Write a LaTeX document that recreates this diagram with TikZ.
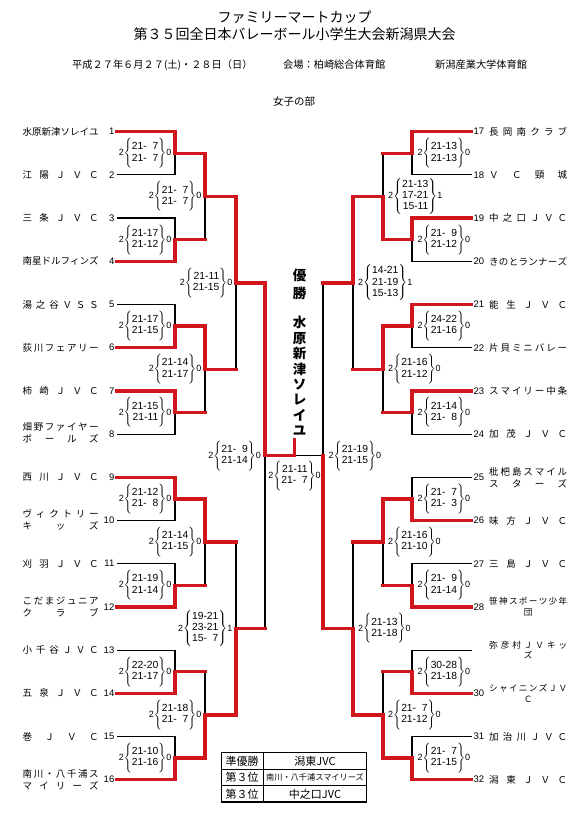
\documentclass[tikz,border=0pt]{standalone}
\usepackage{fontspec}
\setmainfont{Liberation Sans}
\newfontfamily\jp{Noto Sans CJK JP}
\pgfdeclarelayer{top}
\pgfsetlayers{main,top}
\definecolor{bred}{RGB}{208,22,28}
\delimiterfactor=1000
\delimitershortfall=0pt
\makeatletter
\def\spr@#1{\ifx\relax#1\else\hfill#1\expandafter\spr@\fi}
\def\spr@@#1{#1\spr@}
\newcommand{\spreadit}[1]{\spr@@#1\relax}
\makeatother
\newcommand{\lnm}[1]{\makebox[76pt][s]{\spreadit{#1}}}
\newcommand{\rnm}[1]{\makebox[78pt][s]{\spreadit{#1}}}
\newcommand{\rnc}[1]{\makebox[78pt][c]{#1}}
\newcommand{\pz}{\phantom{0}}
% #1 left number, #2 stacked sets, #3 right number, #4 brace height
\newcommand{\scoreset}[4]{{\fontsize{9}{10}\selectfont #1}$\left\{\vcenter{\hbox{\rule{0pt}{#4}}}\begin{tabular}{@{}r@{}}#2\end{tabular}\right\}${\fontsize{9}{10}\selectfont #3}}
\newcommand{\twoset}[3]{\scoreset{#1}{#2}{#3}{28.5pt}}
\newcommand{\threeset}[3]{\scoreset{#1}{#2}{#3}{35pt}}
% first round: xs, xv, xout, ytop, ybot, winner
\newcommand{\rone}[6]{%
  \pgfmathsetmacro\bym{(#4+#5)/2}%
  \if#6t
    \draw[lose] (#1,#5) -- (#2,#5) -- (#2,\bym);
    \begin{pgfonlayer}{top}\draw[win] (#1,#4) -- (#2,#4) -- (#2,\bym) -- (#3,\bym);\end{pgfonlayer}
  \else
    \draw[lose] (#1,#4) -- (#2,#4) -- (#2,\bym);
    \begin{pgfonlayer}{top}\draw[win] (#1,#5) -- (#2,#5) -- (#2,\bym) -- (#3,\bym);\end{pgfonlayer}
  \fi}
% later rounds: xv, ytop, ybot, xout, winner
\newcommand{\bm}[5]{%
  \pgfmathsetmacro\bym{(#2+#3)/2}%
  \if#5t
    \draw[lose] (#1,\bym) -- (#1,#3);
    \begin{pgfonlayer}{top}\draw[win] (#1,#2) -- (#1,\bym) -- (#4,\bym);\end{pgfonlayer}
  \else
    \draw[lose] (#1,#2) -- (#1,\bym);
    \begin{pgfonlayer}{top}\draw[win] (#1,#3) -- (#1,\bym) -- (#4,\bym);\end{pgfonlayer}
  \fi}
\begin{document}
\begin{tikzpicture}[x=1pt,y=-1pt,
  win/.style={draw=bred,line width=3.3pt,line cap=rect,line join=miter},
  lose/.style={draw=black,line width=1.2pt},
  sc/.style={inner sep=0pt,font=\fontsize{10.3}{11.2}\selectfont},
  scl/.style={sc,anchor=east},
  scr/.style={sc,anchor=west},
  lname/.style={anchor=west,inner sep=0pt,font=\jp\fontsize{9.5}{12}\selectfont},
  lname2/.style={lname,align=left},
  rname/.style={anchor=west,inner sep=0pt,font=\jp\fontsize{9.5}{12}\selectfont},
  rsmall/.style={anchor=west,inner sep=0pt,font=\jp\fontsize{8.6}{10.6}\selectfont},
  lnum/.style={anchor=east,inner sep=0pt,font=\fontsize{9.5}{11}\selectfont},
  rnum/.style={anchor=west,inner sep=0pt,font=\fontsize{9.5}{11}\selectfont},
  head/.style={inner sep=0pt,font=\jp\fontsize{10.2}{11}\selectfont},
  ttl/.style={inner sep=0pt,font=\jp\fontsize{14}{16}\selectfont},
  champ/.style={inner sep=0pt,align=center,font=\jp\bfseries\fontsize{13.5}{15.4}\selectfont},
  cell/.style={inner sep=0pt,font=\jp\fontsize{11}{12}\selectfont}
]
\fill[white] (0,0) rectangle (586,818);
\useasboundingbox (0,0) rectangle (586,818);

% ---------- titles ----------
\node[ttl] (title1) at (294.5,17.5) {ファミリーマートカップ};
\node[ttl] (title2) at (294.5,34) {第３５回全日本バレーボール小学生大会新潟県大会};
\node[head,anchor=west] (date) at (72,65) {平成２７年６月２７(土)・２８日（日）};
\node[head,anchor=west] (venue1) at (283,65) {会場：柏崎総合体育館};
\node[head,anchor=west] (venue2) at (435,65) {新潟産業大学体育館};
\node[inner sep=0pt,font=\jp\fontsize{10.5}{12}\selectfont] (div) at (294,102) {女子の部};

% ---------- left team names ----------
\node[lname] (t1) at (22.5,131.7) {\lnm{水原新津ソレイユ}};
\node[lname] (t2) at (22.5,174.9) {\lnm{江陽ＪＶＣ}};
\node[lname] (t3) at (22.5,218.1) {\lnm{三条ＪＶＣ}};
\node[lname] (t4) at (22.5,261.3) {\lnm{南星ドルフィンズ}};
\node[lname] (t5) at (22.5,304.5) {\lnm{湯之谷ＶＳＳ}};
\node[lname] (t6) at (22.5,347.7) {\lnm{荻川フェアリー}};
\node[lname] (t7) at (22.5,390.9) {\lnm{柿崎ＪＶＣ}};
\node[lname2] (t8) at (22.5,433.1) {\lnm{畑野ファイヤー}\\\lnm{ボールズ}};
\node[lname] (t9) at (22.5,477.3) {\lnm{西川ＪＶＣ}};
\node[lname2] (t10) at (22.5,519.5) {\lnm{ヴィクトリー}\\\lnm{キッズ}};
\node[lname] (t11) at (22.5,563.7) {\lnm{刈羽ＪＶＣ}};
\node[lname2] (t12) at (22.5,606.9) {\lnm{こだまジュニア}\\\lnm{クラブ}};
\node[lname] (t13) at (22.5,650.1) {\lnm{小千谷ＪＶＣ}};
\node[lname] (t14) at (22.5,693.3) {\lnm{五泉ＪＶＣ}};
\node[lname] (t15) at (22.5,736.5) {\lnm{巻ＪＶＣ}};
\node[lname2] (t16) at (22.5,779.7) {\lnm{南川・八千浦ス}\\\lnm{マイリーズ}};

% ---------- left numbers ----------
\node[lnum] (n1) at (114.5,131.7) {1};
\node[lnum] (n2) at (114.5,174.9) {2};
\node[lnum] (n3) at (114.5,218.1) {3};
\node[lnum] (n4) at (114.5,261.3) {4};
\node[lnum] (n5) at (114.5,304.5) {5};
\node[lnum] (n6) at (114.5,347.7) {6};
\node[lnum] (n7) at (114.5,390.9) {7};
\node[lnum] (n8) at (114.5,434.1) {8};
\node[lnum] (n9) at (114.5,477.3) {9};
\node[lnum] (n10) at (114.5,520.5) {10};
\node[lnum] (n11) at (114.5,563.7) {11};
\node[lnum] (n12) at (114.5,606.9) {12};
\node[lnum] (n13) at (114.5,650.1) {13};
\node[lnum] (n14) at (114.5,693.3) {14};
\node[lnum] (n15) at (114.5,736.5) {15};
\node[lnum] (n16) at (114.5,779.7) {16};

% ---------- right team names ----------
\node[rname] (t17) at (489,131.7) {\rnm{長岡南クラブ}};
\node[rname] (t18) at (489,174.9) {\rnm{ＶＣ頸城}};
\node[rname] (t19) at (489,218.1) {\rnm{中之口ＪＶＣ}};
\node[rname] (t20) at (489,261.3) {\rnm{きのとランナーズ}};
\node[rname] (t21) at (489,304.5) {\rnm{能生ＪＶＣ}};
\node[rname] (t22) at (489,347.7) {\rnm{片貝ミニバレー}};
\node[rname] (t23) at (489,390.9) {\rnm{スマイリー中条}};
\node[rname] (t24) at (489,434.1) {\rnm{加茂ＪＶＣ}};
\node[rname,align=left] (t25) at (489,477.3) {\rnm{枇杷島スマイル}\\\rnm{スターズ}};
\node[rname] (t26) at (489,520.5) {\rnm{味方ＪＶＣ}};
\node[rname] (t27) at (489,563.7) {\rnm{三島ＪＶＣ}};
\node[rsmall,align=left] (t28) at (489,606.4) {\rnm{笹神スポーツ少年}\\\rnc{団}};
\node[rsmall,align=left] (t29) at (489,650.1) {\rnm{弥彦村ＪＶキッ}\\\rnc{ズ}};
\node[rsmall,align=left] (t30) at (489,693.3) {\rnm{シャイニンズＪＶ}\\\rnc{Ｃ}};
\node[rname] (t31) at (489,736.5) {\rnm{加治川ＪＶＣ}};
\node[rname] (t32) at (489,779.7) {\rnm{潟東ＪＶＣ}};

% ---------- right numbers ----------
\node[rnum] (n17) at (473.5,131.7) {17};
\node[rnum] (n18) at (473.5,174.9) {18};
\node[rnum] (n19) at (473.5,218.1) {19};
\node[rnum] (n20) at (473.5,261.3) {20};
\node[rnum] (n21) at (473.5,304.5) {21};
\node[rnum] (n22) at (473.5,347.7) {22};
\node[rnum] (n23) at (473.5,390.9) {23};
\node[rnum] (n24) at (473.5,434.1) {24};
\node[rnum] (n25) at (473.5,477.3) {25};
\node[rnum] (n26) at (473.5,520.5) {26};
\node[rnum] (n27) at (473.5,563.7) {27};
\node[rnum] (n28) at (473.5,606.9) {28};
\node[rnum] (n30) at (473.5,693.3) {30};
\node[rnum] (n31) at (473.5,736.5) {31};
\node[rnum] (n32) at (473.5,779.7) {32};

% ---------- left bracket ----------
\rone{117}{175}{205}{131.7}{174.9}{t}
\rone{117}{175}{205}{218.1}{261.3}{b}
\rone{117}{175}{205}{304.5}{347.7}{b}
\rone{117}{175}{205}{390.9}{434.1}{t}
\rone{117}{175}{205}{477.3}{520.5}{t}
\rone{117}{175}{205}{563.7}{606.9}{b}
\rone{117}{175}{205}{650.1}{693.3}{b}
\rone{117}{175}{205}{736.5}{779.7}{b}
\bm{205}{153.3}{239.7}{236}{t}
\bm{205}{326.1}{412.5}{236}{t}
\bm{205}{498.9}{585.3}{236}{t}
\bm{205}{671.7}{758.1}{236}{b}
\bm{236}{196.5}{369.3}{265}{t}
\bm{236}{542.1}{714.9}{265}{b}
\draw[lose] (265,455.7) -- (265,628.5);
\begin{pgfonlayer}{top}\draw[win] (265,282.9) -- (265,455.7) -- (294.5,455.7) -- (294.5,440);\end{pgfonlayer}

% ---------- right bracket ----------
\rone{471.5}{412}{383}{131.7}{174.9}{t}
\rone{471.5}{412}{383}{218.1}{261.3}{t}
\rone{471.5}{412}{383}{304.5}{347.7}{t}
\rone{471.5}{412}{383}{390.9}{434.1}{t}
\rone{471.5}{412}{383}{477.3}{520.5}{b}
\rone{471.5}{412}{383}{563.7}{606.9}{b}
\rone{471.5}{412}{383}{650.1}{693.3}{b}
\rone{471.5}{412}{383}{736.5}{779.7}{b}
\bm{383}{153.3}{239.7}{353}{b}
\bm{383}{326.1}{412.5}{353}{t}
\bm{383}{498.9}{585.3}{353}{t}
\bm{383}{671.7}{758.1}{353}{b}
\bm{353}{196.5}{369.3}{323}{t}
\bm{353}{542.1}{714.9}{323}{b}
\draw[lose] (323,282.9) -- (323,455.7) -- (294.5,455.7);
\begin{pgfonlayer}{top}\draw[win] (323,628.5) -- (323,455.7);\end{pgfonlayer}

% ---------- left scores ----------
\node[scl] (sa1) at (171.5,153.3) {\twoset{2}{21-\pz7\\21-\pz7}{0}};
\node[scl] (sa2) at (171.5,239.7) {\twoset{2}{21-17\\21-12}{0}};
\node[scl] (sa3) at (171.5,326.1) {\twoset{2}{21-17\\21-15}{0}};
\node[scl] (sa4) at (171.5,412.5) {\twoset{2}{21-15\\21-11}{0}};
\node[scl] (sa5) at (171.5,498.9) {\twoset{2}{21-12\\21-\pz8}{0}};
\node[scl] (sa6) at (171.5,585.3) {\twoset{2}{21-19\\21-14}{0}};
\node[scl] (sa7) at (171.5,671.7) {\twoset{2}{22-20\\21-17}{0}};
\node[scl] (sa8) at (171.5,758.1) {\twoset{2}{21-10\\21-16}{0}};
\node[scl] (sb1) at (201.5,196.5) {\twoset{2}{21-\pz7\\21-\pz7}{0}};
\node[scl] (sb2) at (201.5,369.3) {\twoset{2}{21-14\\21-17}{0}};
\node[scl] (sb3) at (201.5,542.1) {\twoset{2}{21-14\\21-15}{0}};
\node[scl] (sb4) at (201.5,714.9) {\twoset{2}{21-18\\21-\pz7}{0}};
\node[scl] (sc1) at (232.5,282.9) {\twoset{2}{21-11\\21-15}{0}};
\node[scl] (sc2) at (232.5,628.5) {\threeset{2}{19-21\\23-21\\15-\pz7}{1}};
\node[scl] (sd1) at (261,455.7) {\twoset{2}{21-\pz9\\21-14}{0}};

% ---------- final score ----------
\node[sc] (sf) at (294.5,476) {\twoset{2}{21-11\\21-\pz7}{0}};

% ---------- right scores ----------
\node[scr] (sa9) at (417.5,153.3) {\twoset{2}{21-13\\21-13}{0}};
\node[scr] (sa10) at (417.5,239.7) {\twoset{2}{21-\pz9\\21-12}{0}};
\node[scr] (sa11) at (417.5,326.1) {\twoset{2}{24-22\\21-16}{0}};
\node[scr] (sa12) at (417.5,412.5) {\twoset{2}{21-14\\21-\pz8}{0}};
\node[scr] (sa13) at (417.5,498.9) {\twoset{2}{21-\pz7\\21-\pz3}{0}};
\node[scr] (sa14) at (417.5,585.3) {\twoset{2}{21-\pz9\\21-14}{0}};
\node[scr] (sa15) at (417.5,671.7) {\twoset{2}{30-28\\21-18}{0}};
\node[scr] (sa16) at (417.5,758.1) {\twoset{2}{21-\pz7\\21-15}{0}};
\node[scr] (sb5) at (388,196.5) {\threeset{2}{21-13\\17-21\\15-11}{1}};
\node[scr] (sb6) at (388,369.3) {\twoset{2}{21-16\\21-12}{0}};
\node[scr] (sb7) at (388,542.1) {\twoset{2}{21-16\\21-10}{0}};
\node[scr] (sb8) at (388,714.9) {\twoset{2}{21-\pz7\\21-12}{0}};
\node[scr] (sc3) at (358,282.9) {\threeset{2}{14-21\\21-19\\15-13}{1}};
\node[scr] (sc4) at (358,628.5) {\twoset{2}{21-13\\21-18}{0}};
\node[scr] (sd2) at (328.5,455.7) {\twoset{2}{21-19\\21-15}{0}};

% ---------- champion ----------
\node[champ,font=\jp\bfseries\fontsize{13.5}{18}\selectfont] (yusho) at (299.5,284) {優\\勝};
\node[champ] (winner) at (299.5,376) {水\\原\\新\\津\\ソ\\レ\\イ\\ユ};

% ---------- results table ----------
\draw[line width=0.8pt] (221,752.5) rectangle (366.5,802);
\draw[line width=1.6pt] (366.5,752.5) -- (366.5,802) -- (221,802);
\draw[line width=0.8pt] (263.3,752.5) -- (263.3,802);
\draw[line width=0.8pt] (221,769.2) -- (366.5,769.2);
\draw[line width=0.8pt] (221,785.8) -- (366.5,785.8);
\node[cell] (c11) at (242.2,761) {準優勝};
\node[cell] (c21) at (242.2,777.5) {第３位};
\node[cell] (c31) at (242.2,794) {第３位};
\node[cell] (c12) at (315,761) {潟東JVC};
\node[cell,font=\jp\fontsize{8.2}{9}\selectfont] (c22) at (315,777.5) {南川・八千浦スマイリーズ};
\node[cell] (c32) at (315,794) {中之口JVC};
\end{tikzpicture}
\end{document}
